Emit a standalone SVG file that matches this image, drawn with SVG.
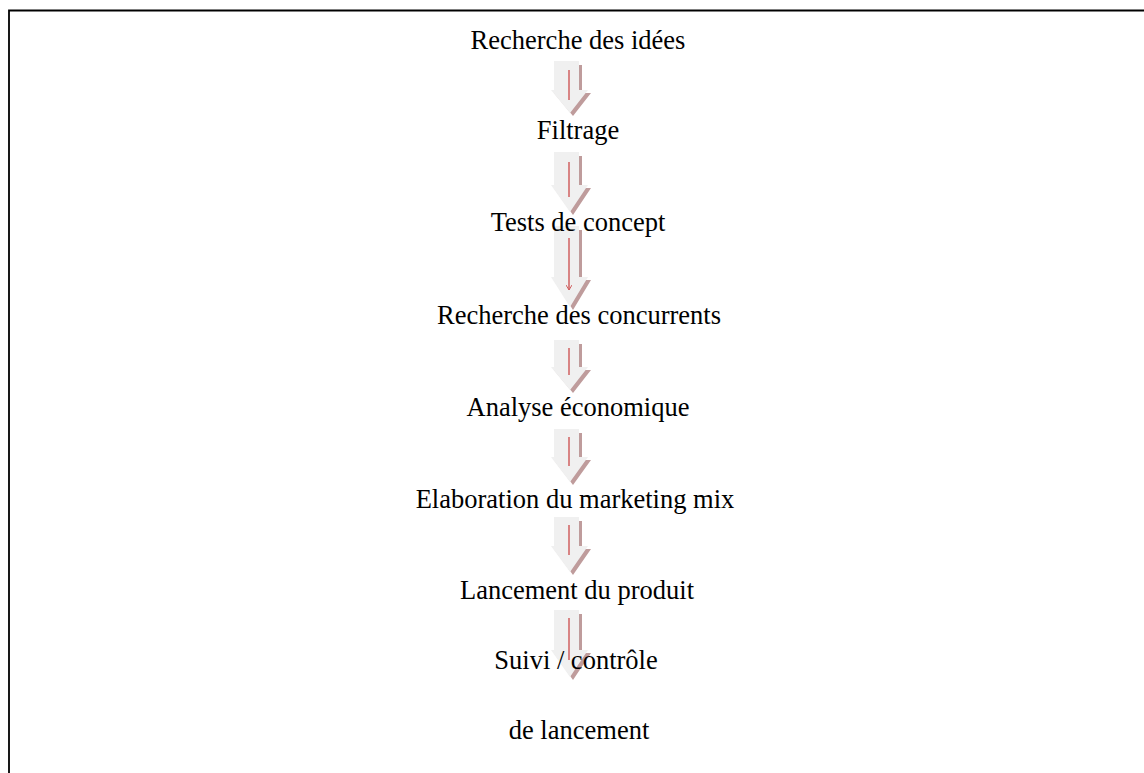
<svg xmlns="http://www.w3.org/2000/svg" width="1144" height="773" viewBox="0 0 1144 773">
<defs>
<style>
.t{font-family:"Liberation Serif","Times New Roman",serif;font-size:26.5px;fill:#000;text-anchor:middle}
.sh{fill:#bf9c9c}
.ar{fill:#f0f0f0}
.rl{stroke:#d06060;stroke-width:1.5;fill:none}
</style>
<marker id="mh" markerWidth="6" markerHeight="6" refX="5" refY="3" orient="auto" markerUnits="userSpaceOnUse" viewBox="0 0 6 6">
<path d="M0,0 L5,3 L0,6" fill="none" stroke="#d06060" stroke-width="1"/>
</marker>
</defs>
<rect width="1144" height="773" fill="#fff"/>
<path d="M9,773 L9,10.5 L1144,10.5" fill="none" stroke="#000" stroke-width="1.8"/>
<g id="connectors">
<g id="a1" transform="translate(0,61)">
<path class="sh" d="M557,4 H582 V32 H591 L573,55 L554,32 H557 Z"/>
<path class="ar" d="M554,0 H579 V29 H588 L570,52 L551,29 H554 Z"/>
<line class="rl" x1="569" y1="9" x2="569" y2="39"/>
</g>
<g id="a2" transform="translate(0,152)">
<path class="sh" d="M557,4 H582 V36 H591 L573,63 L554,36 H557 Z"/>
<path class="ar" d="M554,0 H579 V33 H588 L570,60 L551,33 H554 Z"/>
<line class="rl" x1="569" y1="10" x2="569" y2="45"/>
</g>
<g id="a3" transform="translate(0,226)">
<path class="sh" d="M557,4 H582 V54 H591 L573,84 L554,54 H557 Z"/>
<path class="ar" d="M554,0 H579 V51 H588 L570,81 L551,51 H554 Z"/>
<line class="rl" x1="569" y1="12" x2="569" y2="64" marker-end="url(#mh)"/>
</g>
<g id="a4" transform="translate(0,340)">
<path class="sh" d="M557,4 H582 V30 H591 L573,53 L554,30 H557 Z"/>
<path class="ar" d="M554,0 H579 V27 H588 L570,50 L551,27 H554 Z"/>
<line class="rl" x1="569" y1="8" x2="569" y2="35"/>
</g>
<g id="a5" transform="translate(0,429)">
<path class="sh" d="M557,4 H582 V31 H591 L573,56 L554,31 H557 Z"/>
<path class="ar" d="M554,0 H579 V28 H588 L570,53 L551,28 H554 Z"/>
<line class="rl" x1="569" y1="8" x2="569" y2="37"/>
</g>
<g id="a6" transform="translate(0,517)">
<path class="sh" d="M557,4 H582 V32 H591 L573,58 L554,32 H557 Z"/>
<path class="ar" d="M554,0 H579 V29 H588 L570,55 L551,29 H554 Z"/>
<line class="rl" x1="569" y1="8" x2="569" y2="38"/>
</g>
<g id="a7" transform="translate(0,610)">
<path class="sh" d="M557,4 H582 V43 H591 L573,70 L554,43 H557 Z"/>
<path class="ar" d="M554,0 H579 V40 H588 L570,67 L551,40 H554 Z"/>
<line class="rl" x1="569" y1="8" x2="569" y2="50"/>
</g>
</g>
<g id="n1"><text class="t" x="578" y="49">Recherche des idées</text></g>
<g id="n2"><text class="t" x="578" y="139">Filtrage</text></g>
<g id="n3"><text class="t" x="578" y="231">Tests de concept</text></g>
<g id="n4"><text class="t" x="579" y="324">Recherche des concurrents</text></g>
<g id="n5"><text class="t" x="578" y="416">Analyse économique</text></g>
<g id="n6"><text class="t" x="575" y="508">Elaboration du marketing mix</text></g>
<g id="n7"><text class="t" x="577" y="599">Lancement du produit</text></g>
<g id="n8"><text class="t" x="576" y="669">Suivi / contrôle</text></g>
<g id="n9"><text class="t" x="579" y="739">de lancement</text></g>
</svg>
